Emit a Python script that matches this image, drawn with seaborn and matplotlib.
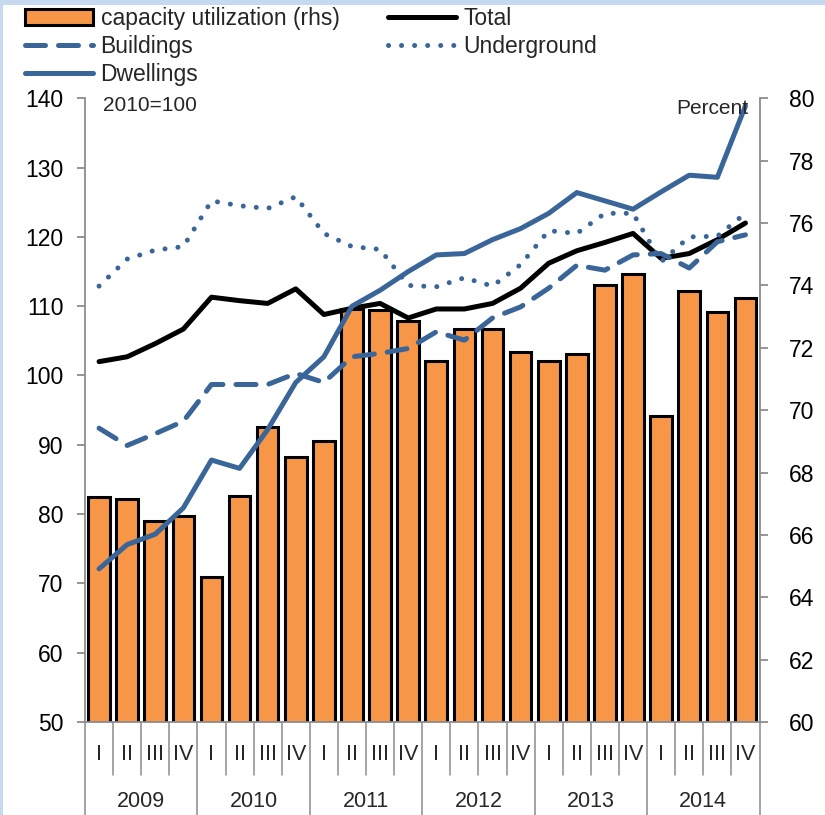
import pandas as pd
import matplotlib.pyplot as plt
import matplotlib.transforms as mtransforms
from matplotlib.patches import Patch, Rectangle
from matplotlib.lines import Line2D
import seaborn as sns

# Quarterly data 2009-2014
years = ['2009', '2010', '2011', '2012', '2013', '2014']
quarters = ['I', 'II', 'III', 'IV']

# capacity utilization, percent (rhs)
capacity = [67.2, 67.15, 66.45, 66.6, 64.65, 67.25, 69.45, 68.5,
            69.0, 73.25, 73.2, 72.85, 71.58, 72.6, 72.6, 71.87,
            71.58, 71.8, 74.0, 74.35, 69.82, 73.82, 73.15, 73.6]
# indices, 2010=100 (lhs)
total = [102.0, 102.7, 104.6, 106.7, 111.3, 110.8, 110.4, 112.5,
         108.8, 109.7, 110.4, 108.3, 109.6, 109.6, 110.4, 112.6,
         116.2, 118.0, 119.2, 120.5, 116.9, 117.6, 119.6, 122.0]
buildings = [92.4, 89.9, 91.6, 93.4, 98.7, 98.7, 98.7, 100.3,
             99.0, 102.7, 103.2, 103.9, 106.3, 105.1, 108.3, 109.9,
             112.6, 115.9, 115.2, 117.4, 117.6, 115.5, 119.3, 120.3]
underground = [112.9, 116.8, 118.1, 118.6, 125.2, 124.5, 124.1, 125.8,
               120.5, 118.6, 118.2, 113.0, 112.8, 114.1, 112.9, 116.0,
               120.9, 120.5, 123.4, 123.4, 116.4, 120.0, 120.1, 123.4]
dwellings = [72.1, 75.6, 77.1, 80.9, 87.8, 86.6, 92.2, 99.0,
             102.7, 110.0, 112.3, 115.0, 117.4, 117.6, 119.6, 121.2,
             123.4, 126.4, 125.2, 124.0, 126.5, 128.9, 128.6, 138.9]

df = pd.DataFrame({
    'idx': range(len(capacity)),
    'capacity': capacity,
    'Total': total,
    'Buildings': buildings,
    'Underground': underground,
    'Dwellings': dwellings,
})

sns.set_theme(style='white')
plt.rcParams['font.family'] = ['Liberation Sans', 'DejaVu Sans']

orange = '#F79646'
blue = '#3A6599'
gray = '#8C8C8C'
lw = 3.6
dash = (0, (4, 2.6))
dot = (0, (0.01, 2.6))

fig = plt.figure(figsize=(8.25, 8.15), dpi=100)
ax_bar = fig.add_axes([85 / 825, 93 / 815, 674.5 / 825, 623.7 / 815])

# bars (rhs)
sns.barplot(data=df, x='idx', y='capacity', ax=ax_bar, color=orange,
            saturation=1, edgecolor='black', linewidth=2.2, width=0.77)

ax_line = ax_bar.twinx()
sns.lineplot(data=df, x='idx', y='Total', ax=ax_line, color='black', lw=lw)
sns.lineplot(data=df, x='idx', y='Buildings', ax=ax_line, color=blue, lw=lw,
             linestyle=dash, dash_capstyle='round')
sns.lineplot(data=df, x='idx', y='Underground', ax=ax_line, color=blue, lw=lw,
             linestyle=dot, dash_capstyle='round')
sns.lineplot(data=df, x='idx', y='Dwellings', ax=ax_line, color=blue, lw=lw)

n = len(capacity)
ax_bar.set_xlim(-0.5, n - 0.5)
ax_bar.set_ylim(60, 80)
ax_bar.set_yticks(range(60, 81, 2))
ax_bar.yaxis.tick_right()
ax_line.yaxis.tick_left()
ax_line.set_ylim(50, 140)
ax_line.set_yticks(range(50, 141, 10))
for a in (ax_bar, ax_line):
    a.set_xlabel('')
    a.set_ylabel('')
    for s in a.spines.values():
        s.set_visible(False)
for s in ('left', 'right', 'bottom'):
    ax_line.spines[s].set_visible(True)
    ax_line.spines[s].set_color(gray)
    ax_line.spines[s].set_linewidth(1.3)

ax_line.tick_params(axis='y', direction='out', length=5.5, width=1.3, color=gray,
                    labelcolor='black', labelsize=16.5, pad=10)
ax_bar.tick_params(axis='y', direction='out', length=5.5, width=1.3, color=gray,
                   labelcolor='black', labelsize=16.5, pad=16, left=False, right=True)

# quarter / year category axis
ax_bar.set_xticks(range(n))
ax_bar.set_xticklabels(quarters * len(years))
ax_bar.tick_params(axis='x', length=0, labelsize=15.5, pad=16, bottom=True)
trans = mtransforms.blended_transform_factory(ax_bar.transData, ax_bar.transAxes)
for k in range(n + 1):
    y_end = -0.16 if k % 4 == 0 else -0.085
    ax_bar.plot([k - 0.5, k - 0.5], [0, y_end], transform=trans, color=gray,
                lw=1.1, clip_on=False)
for i, yr in enumerate(years):
    ax_bar.text(4 * i + 1.5, -0.127, yr, transform=trans, ha='center', va='center',
                fontsize=15.5)

ax_line.text(0.027, 0.989, '2010=100', transform=ax_line.transAxes, ha='left',
             va='center', fontsize=15)
ax_line.text(0.983, 0.984, 'Percent', transform=ax_line.transAxes, ha='right',
             va='center', fontsize=15)

# legend in two independent columns
h_cap = Patch(facecolor=orange, edgecolor='black', linewidth=2.2)
h_tot = Line2D([], [], color='black', lw=lw)
h_bld = Line2D([], [], color=blue, lw=lw, linestyle=dash, dash_capstyle='round')
h_und = Line2D([], [], color=blue, lw=lw, linestyle=dot, dash_capstyle='round')
h_dwl = Line2D([], [], color=blue, lw=lw)
leg_kw = dict(frameon=False, fontsize=16.5, handlelength=2.95, handletextpad=0.35,
              labelspacing=0.22, borderpad=0, borderaxespad=0, loc='upper left')
fig.legend([h_cap, h_bld, h_dwl], ['capacity utilization (rhs)', 'Buildings', 'Dwellings'],
           bbox_to_anchor=(25 / 825, 1 - 7 / 815), **leg_kw)
fig.legend([h_tot, h_und], ['Total', 'Underground'],
           bbox_to_anchor=(388 / 825, 1 - 7 / 815), **leg_kw)

# light blue frame at top and left
fig.add_artist(Rectangle((0, 1 - 5 / 815), 1, 5 / 815, transform=fig.transFigure,
                         color='#C6D9F0', lw=0))
fig.add_artist(Rectangle((0, 0), 2.5 / 825, 1, transform=fig.transFigure,
                         color='#C6D9F0', lw=0))

fig.savefig('out.png', dpi=100)
